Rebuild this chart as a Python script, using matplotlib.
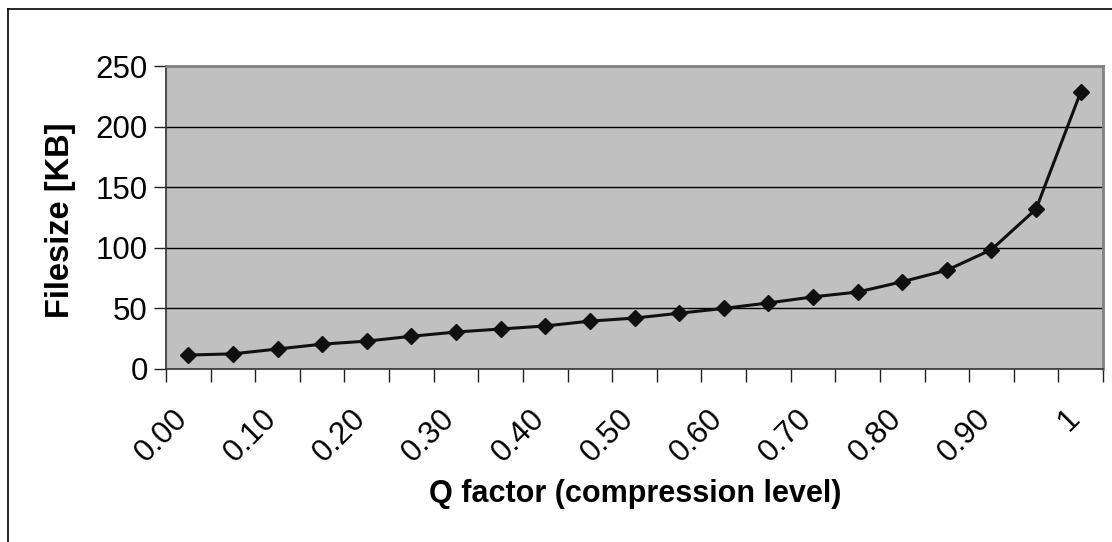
import matplotlib
matplotlib.use('Agg')
import matplotlib.pyplot as plt
import matplotlib.transforms as mtransforms
from matplotlib.lines import Line2D

plt.rcParams['font.family'] = ['Liberation Sans', 'DejaVu Sans']

# Q factor categories (0.00 .. 1 in steps of 0.05), only every other one is labelled
q_labels = ['0.00', '0.10', '0.20', '0.30', '0.40', '0.50',
            '0.60', '0.70', '0.80', '0.90', '1']
filesize_kb = [11.5, 12.5, 16.5, 20.5, 23, 27, 30.5, 33, 35.5, 39.5, 42,
               46, 50, 54.5, 59.5, 63.5, 72, 81.5, 98.5, 132, 228.5]
y_ticks = [0, 50, 100, 150, 200, 250]

W, H = 1112, 542
fig = plt.figure(figsize=(W / 100, H / 100), dpi=100)

# outer chart border (cut off at right and bottom)
fig.add_artist(Line2D([8 / W, 1], [1 - 9 / H, 1 - 9 / H], color='black', lw=1.2))
fig.add_artist(Line2D([8 / W, 8 / W], [0, 1 - 9 / H], color='black', lw=1.2))

left, right, top, bottom = 166, 1103, 66, 369
ax = fig.add_axes([left / W, 1 - bottom / H, (right - left) / W, (bottom - top) / H])
ax.set_facecolor('#c0c0c0')

n = len(filesize_kb)
xs = list(range(n))
ax.plot(xs, filesize_kb, color='#101010', lw=2.2, marker='D', markersize=8,
        markerfacecolor='#101010', markeredgecolor='#101010', zorder=3)

ax.set_xlim(-0.5, n - 0.5)
ax.set_ylim(0, 250)

# y axis
ax.set_yticks(y_ticks)
ax.set_yticklabels([str(v) for v in y_ticks], fontsize=22.5)
ax.tick_params(axis='y', length=9, width=1, color='#202020', pad=4)
for v in y_ticks[1:-1]:
    ax.axhline(v, color='black', lw=1, zorder=1)

# x axis: tick marks at category boundaries, labels on every other category
ax.set_xticks([i - 0.5 for i in range(n + 1)])
ax.set_xticklabels([])
ax.tick_params(axis='x', which='major', length=9, width=1, color='#202020')
ax.set_xticks(xs[::2], q_labels, minor=True)
ax.tick_params(axis='x', which='minor', length=0, pad=25, labelsize=22.5)
offset = mtransforms.ScaledTranslation(-16 / 100, 0, fig.dpi_scale_trans)
for lab in ax.get_xticklabels(minor=True):
    lab.set_rotation(45)
    lab.set_ha('right')
    lab.set_va('top')
    lab.set_rotation_mode('anchor')
    lab.set_transform(lab.get_transform() + offset)

for side in ['top', 'right']:
    ax.spines[side].set_color('#808080')
    ax.spines[side].set_linewidth(2)
for side in ['left', 'bottom']:
    ax.spines[side].set_color('#303030')
    ax.spines[side].set_linewidth(1.2)

fig.text(61 / W, 1 - 220 / H, 'Filesize [KB]', rotation=90, fontsize=23.5,
         fontweight='bold', ha='center', va='center')
fig.text(635 / W, 1 - 494 / H, 'Q factor (compression level)', fontsize=22,
         fontweight='bold', ha='center', va='center')

fig.savefig('out.png', dpi=100)
